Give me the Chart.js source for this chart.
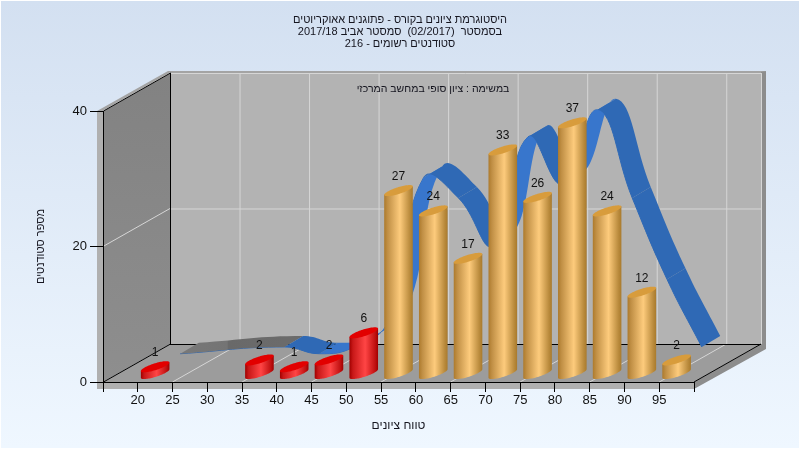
<!DOCTYPE html>
<html>
<head>
<meta charset="utf-8">
<style>html,body{margin:0;padding:0;background:#fff}canvas{display:block}</style>
<script src="https://cdn.jsdelivr.net/npm/chart.js@4/dist/chart.umd.js"></script>
</head>
<body>
<canvas id="c" width="800" height="450" dir="rtl"></canvas>
<script>
const binStarts = [15,20,25,30,35,40,45,50,55,60,65,70,75,80,85,90,95];
const counts = [null,1,null,null,2,1,2,6,27,24,17,33,26,37,24,12,2];
const xTickValues = [15,20,25,30,35,40,45,50,55,60,65,70,75,80,85,90,95,100];
const xTickLabels = [20,25,30,35,40,45,50,55,60,65,70,75,80,85,90,95];
const yTickValues = [0,20,40];
const titleLines = ['היסטוגרמת ציונים בקורס - פתוגנים אאוקריוטים','בסמסטר  (02/2017)  סמסטר אביב 2017/18','סטודנטים רשומים - 216'];
const noteText = 'במשימה : ציון סופי במחשב המרכזי';
const xTitle = 'טווח ציונים';
const yTitle = 'מספר סטודנטים';
const passFrom = 55;

const FONT = '"Liberation Sans", Arial, sans-serif';
const depth = {x:67, y:-38};
const ribbonWidth = {x:18.5, y:-11};
const pxX = 591/85, pxY = 271/40;
const barShiftY = 8.5, ribbonShift = {x:42.5, y:21.5};

function grad(ctx,x0,y0,x1,y1,stops){const g=ctx.createLinearGradient(x0,y0,x1,y1);stops.forEach(([o,c])=>g.addColorStop(o,c));return g;}
function poly(ctx,pts,fill){ctx.beginPath();pts.forEach((p,i)=>i?ctx.lineTo(p[0],p[1]):ctx.moveTo(p[0],p[1]));ctx.closePath();ctx.fillStyle=fill;ctx.fill();}
function seg(ctx,a,b,col){ctx.beginPath();ctx.moveTo(a[0],a[1]);ctx.lineTo(b[0],b[1]);ctx.strokeStyle=col;ctx.lineWidth=1;ctx.stroke();}

/* cylinder shape for the library's bar elements */
const SHEAR=0.30, RY=3.5;
const GOLD=[[0,'#ad7a2c'],[.12,'#c08f45'],[.55,'#fdcb7c'],[.9,'#b98a3c'],[1,'#a97a2c']];
const RED=[[0,'#a00000'],[.12,'#c81818'],[.55,'#ff4545'],[.9,'#c01010'],[1,'#a00000']];
Chart.BarElement.prototype.draw = function(ctx){
  const {x,y,base,width,options}=this;
  if(this.skip||!isFinite(y)||!isFinite(x)) return;
  const rx=width/2, N=40, pts=[];
  const ep=(cy,t)=>[x+rx*Math.cos(t), cy+RY*Math.sin(t)-SHEAR*rx*Math.cos(t)];
  pts.push(ep(y,Math.PI));
  for(let i=0;i<=N;i++) pts.push(ep(base,Math.PI-Math.PI*i/N));
  pts.push(ep(y,0));
  poly(ctx,pts,grad(ctx,x-rx,0,x+rx,0,options.backgroundColor==='#d89c3c'?GOLD:RED));
  const top=[]; for(let i=0;i<N*2;i++) top.push(ep(y,Math.PI*i/N));
  poly(ctx,top,options.backgroundColor);
};

const scene = {
  id:'scene',
  beforeDraw(chart){
    const c=chart.ctx,{xt,y}=chart.scales;
    c.save();
    c.fillStyle='#fff';c.fillRect(0,0,800,450);
    c.fillStyle=grad(c,0,1,0,448,[[0,'#d3e0f1'],[1,'#eff7ff']]);c.fillRect(1,1,798,447);
    const L=xt.getPixelForValue(15),R=xt.getPixelForValue(100),B=y.getPixelForValue(0),T=y.getPixelForValue(40);
    const dx=depth.x,dy=depth.y;
    poly(c,[[L-6,T],[L+dx-2,T+dy-2],[R+dx+5,T+dy-2],[R+dx,T+dy+1],[L+dx,T+dy],[L,T]],'#a4a4a4');
    poly(c,[[L-6,T],[L,T],[L,B+7],[L-6,B+7]],'#b0b0b0');
    poly(c,[[L-6,B],[R,B],[R,B+7],[L-6,B+7]],'#b0b0b0');
    poly(c,[[R+dx,T+dy-1],[R+dx+5,T+dy-2],[R+dx+5,B+dy+5],[R,B+7],[R,B],[R+dx,B+dy]],'#8d8d8d');
    poly(c,[[L+dx,T+dy],[R+dx,T+dy],[R+dx,B+dy],[L+dx,B+dy]],'#b3b3b3');
    poly(c,[[L,T],[L+dx,T+dy],[L+dx,B+dy],[L,B]],grad(c,0,T+dy,0,B,[[0,'#828282'],[1,'#8e8e8e']]));
    poly(c,[[L,B],[L+dx,B+dy],[R+dx,B+dy],[R,B]],'#9c9c9c');
    const gc='#d6d6d6';
    [25,35,45,55,65,75,85,95].forEach(v=>{
      const X=xt.getPixelForValue(v);
      seg(c,[X+dx+.5,T+dy],[X+dx+.5,B+dy],gc);
      seg(c,[X,B],[X+dx,B+dy],gc);
    });
    seg(c,[R+dx+.5,T+dy],[R+dx+.5,B+dy],gc);
    [20,40].forEach(v=>{
      const Y=y.getPixelForValue(v);
      seg(c,[L+dx,Y+dy+.5],[R+dx,Y+dy+.5],gc);
      seg(c,[L,Y],[L+dx,Y+dy],gc);
    });
    const k='#000';
    seg(c,[L+.5,T],[L+dx+.5,T+dy],k);
    seg(c,[L+dx+.5,T+dy],[L+dx+.5,B+dy],k);
    seg(c,[L+dx,B+dy+.5],[R+dx,B+dy+.5],k);
    seg(c,[L+.5,B],[L+dx+.5,B+dy],k);
    seg(c,[R,B],[R+dx,B+dy],k);
    c.fillStyle='#15151f';c.font='10.5px '+FONT;c.textAlign='center';c.textBaseline='middle';
    c.direction='rtl';c.fillText(noteText,433,89);
    c.restore();
  },
  afterDatasetDraw(chart,args){
    const c=chart.ctx;
    if(chart.data.datasets[args.index].type!=='line') return;
    const pts=args.meta.data.filter(p=>!p.skip);
    const w=ribbonWidth;
    c.save();
    const paint=(i)=>{
      const a=pts[i],b=pts[i+1];
      const gap=args.meta.data.indexOf(b)-args.meta.data.indexOf(a)>1;
      const rising=b.y<a.y;
      c.beginPath();c.moveTo(a.x,a.y);
      c.bezierCurveTo(a.cp2x,a.cp2y,b.cp1x,b.cp1y,b.x,b.y);
      c.lineTo(b.x+w.x,b.y+w.y);
      c.bezierCurveTo(b.cp1x+w.x,b.cp1y+w.y,a.cp2x+w.x,a.cp2y+w.y,a.x+w.x,a.y+w.y);
      c.closePath();
      c.fillStyle=gap?grad(c,a.x,0,b.x,0,[[0,'#787878'],[.45,'#747474'],[.46,'#696969'],[1,'#6b6b6b']]):(rising?'#3876cc':'#2f69b5');
      c.fill();
    };
    for(let i=0;i<pts.length-1;i++){ if(pts[i+1].y<pts[i].y) paint(i); }
    for(let i=0;i<pts.length-1;i++){ if(pts[i+1].y>=pts[i].y) paint(i); }
    c.restore();
  },
  afterDatasetsDraw(chart){
    const c=chart.ctx;
    const idx=chart.data.datasets.findIndex(d=>d.type==='bar');
    const meta=chart.getDatasetMeta(idx);
    c.save();c.fillStyle='#111';c.font='12px '+FONT;c.textAlign='center';c.textBaseline='middle';c.direction='ltr';
    meta.data.forEach((el,i)=>{ if(counts[i]!=null) c.fillText(String(counts[i]),el.x,el.y-14); });
    c.restore();
  }
};

new Chart(document.getElementById('c'),{
  data:{
    labels:binStarts,
    datasets:[
      {type:'line',label:'ribbon',order:2,data:binStarts.map((b,i)=>({x:b,y:counts[i]})),xAxisID:'xr',yAxisID:'yr',
       spanGaps:true,tension:0.45,capBezierPoints:false,clip:false,borderWidth:1,borderColor:'#2f69b5',pointRadius:0,fill:false},
      {type:'bar',label:'count',order:1,data:counts,xAxisID:'x',yAxisID:'yb',clip:false,
       barPercentage:.9,categoryPercentage:.914,grouped:false,
       backgroundColor:c=>binStarts[c.dataIndex]>=passFrom?'#d89c3c':'#e20000',borderWidth:0}
    ]
  },
  options:{
    responsive:false,animation:false,
    layout:{padding:0},
    plugins:{
      legend:{display:false},tooltip:{enabled:false},
      title:{display:true,text:titleLines,color:'#15151f',font:{family:FONT,size:11,weight:'normal',lineHeight:12/11},padding:{top:14,bottom:61}}
    },
    scales:{
      x:{type:'category',display:false,offset:true,stacked:true},
      yb:{type:'linear',display:false,min:-barShiftY/pxY,max:40-barShiftY/pxY},
      xr:{type:'linear',display:false,min:15-ribbonShift.x/pxX,max:100-ribbonShift.x/pxX},
      yr:{type:'linear',position:'right',min:-ribbonShift.y/pxY,max:40-ribbonShift.y/pxY,
        afterFit:s=>{s.width=106;},
        grid:{display:false},border:{display:false},ticks:{display:false}},
      xt:{type:'linear',position:'bottom',min:15,max:100,
        afterBuildTicks:s=>{s.ticks=xTickValues.map(v=>({value:v}));},
        afterFit:s=>{s.height=68;},
        border:{display:true,color:'#000'},
        grid:{drawOnChartArea:false,drawTicks:true,tickLength:10,color:'#000'},
        ticks:{autoSkip:false,maxRotation:0,color:'#111',padding:1,font:{family:FONT,size:13},callback:v=>xTickLabels.includes(v)?String(v):''},
        title:{display:true,text:xTitle,color:'#15151f',font:{family:FONT,size:12,lineHeight:1},padding:{top:0,bottom:18}}},
      y:{type:'linear',position:'left',min:0,max:40,
        afterBuildTicks:s=>{s.ticks=yTickValues.map(v=>({value:v}));},
        afterFit:s=>{s.width=103;},
        border:{display:true,color:'#000'},
        grid:{drawOnChartArea:false,drawTicks:true,tickLength:13,color:'#000'},
        ticks:{color:'#111',padding:3,font:{family:FONT,size:13}},
        title:{display:true,text:yTitle,color:'#15151f',font:{family:FONT,size:11,lineHeight:1},padding:{top:35,bottom:0}}}
    }
  },
  plugins:[scene]
});
</script>
</body>
</html>
